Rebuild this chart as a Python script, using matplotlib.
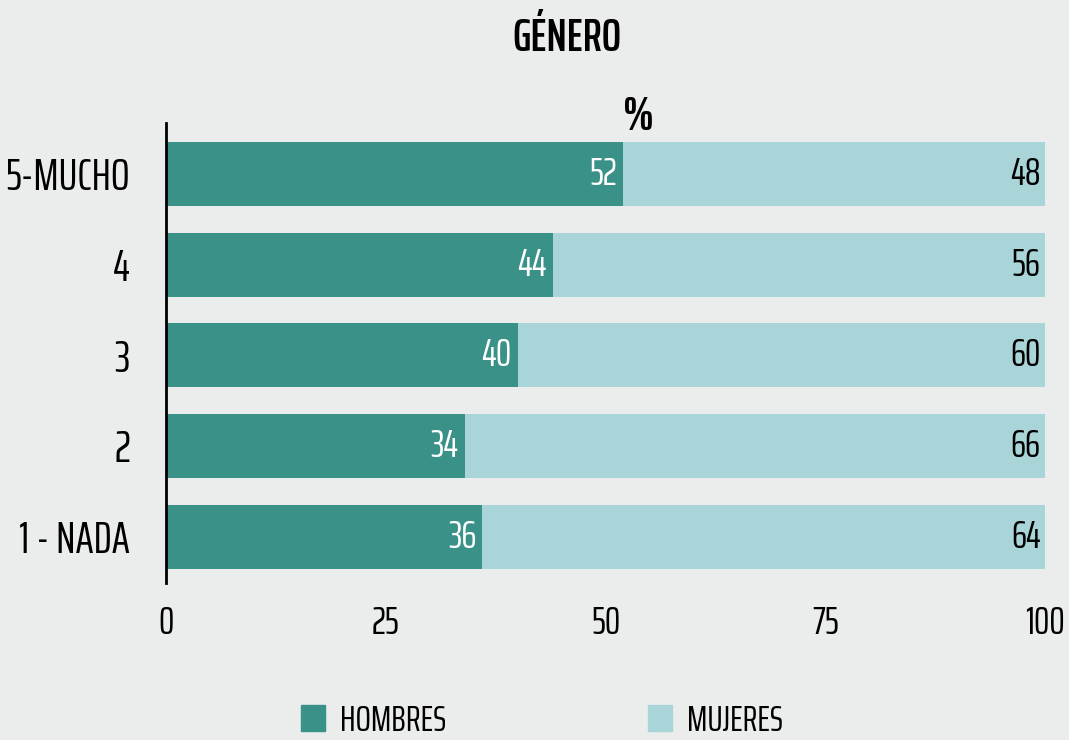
import matplotlib.pyplot as plt
from matplotlib.patches import Patch

categories = ['1 - NADA', '2', '3', '4', '5-MUCHO']
hombres = [36, 34, 40, 44, 52]
mujeres = [64, 66, 60, 56, 48]
series_names = ['HOMBRES', 'MUJERES']
xticks = [0, 25, 50, 75, 100]

bg = '#ebedec'
dark = '#3a9188'
light = '#a9d5d8'

plt.rcParams['font.family'] = ['Saira ExtraCondensed', 'Roboto Condensed', 'DejaVu Sans']

fig = plt.figure(figsize=(10.69, 7.40), dpi=100, facecolor=bg)
ax = fig.add_axes([0.1553, 0.2122, 0.8223, 0.6216], facecolor=bg)

y = range(len(categories))
ax.barh(y, hombres, height=0.705, color=dark)
ax.barh(y, mujeres, left=hombres, height=0.705, color=light)

for i in y:
    ax.text(hombres[i] - 0.7, i, str(hombres[i]), ha='right', va='center',
            color='white', fontsize=28)
    ax.text(99.5, i, str(mujeres[i]), ha='right', va='center',
            color='black', fontsize=28)

ax.set_xlim(0, 100)
ax.set_ylim(-0.51, 4.56)
ax.set_yticks(list(y))
ax.set_yticklabels(categories, fontsize=32)
ax.set_xticks(xticks)
ax.set_xticklabels([str(v) for v in xticks], fontsize=28)
ax.tick_params(axis='both', length=0)
ax.tick_params(axis='y', pad=26)
ax.tick_params(axis='x', pad=16)
for s in ['top', 'right', 'bottom']:
    ax.spines[s].set_visible(False)
ax.spines['left'].set_linewidth(2)
ax.spines['left'].set_color('black')

fig.text(0.53, 0.948, 'GÉNERO', ha='center', va='center', fontsize=33,
         fontweight='semibold')
fig.text(0.597, 0.842, '%', ha='center', va='center', fontsize=34,
         fontweight='bold')

handles = [Patch(color=dark), Patch(color=light)]
fig.legend(handles, series_names, loc='center', bbox_to_anchor=(0.507, 0.026),
           ncol=2, frameon=False, fontsize=26, handlelength=0.65, handleheight=0.75,
           columnspacing=5.6, handletextpad=0.42, borderpad=0)

fig.savefig('out.png', dpi=100, facecolor=bg)
